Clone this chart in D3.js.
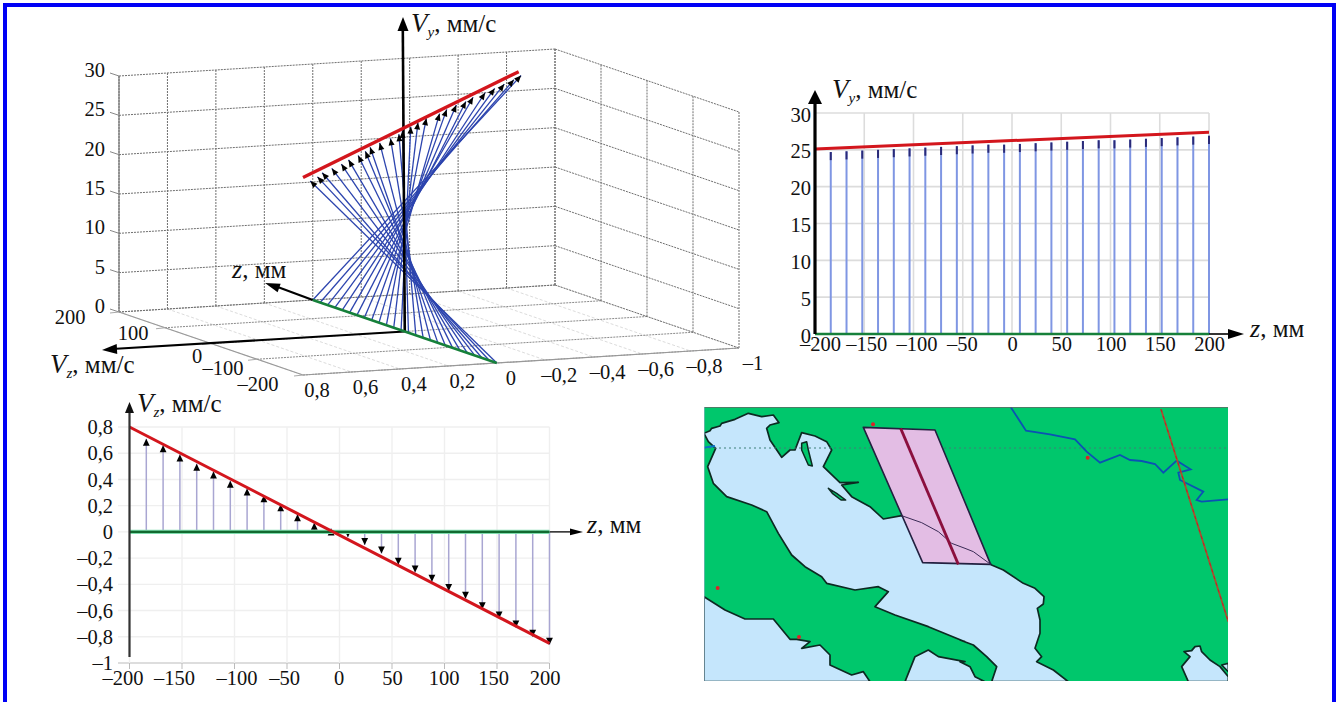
<!DOCTYPE html>
<html><head><meta charset="utf-8">
<script src="https://cdnjs.cloudflare.com/ajax/libs/d3/7.8.5/d3.min.js"></script>
<style>html,body{margin:0;padding:0;background:#fff;overflow:hidden}svg{display:block}text{font-family:"Liberation Serif",serif;fill:#111}</style>
</head><body><svg id="c" width="1339" height="702"></svg>
<script>
// ---------- data ----------
const zValues  = [-200,-184,-168,-152,-136,-120,-104,-88,-72,-56,-40,-24,-8,8,24,40,56,72,88,104,120,136,152,168,184,200];
const vzValues = [0.77,0.71,0.66,0.59,0.52,0.46,0.39,0.33,0.28,0.21,0.135,0.07,0.025,-0.04,-0.10,-0.165,-0.25,-0.31,-0.38,-0.45,-0.51,-0.59,-0.66,-0.73,-0.80,-0.86];
const vyValues = [24.6,24.7,24.8,24.9,25.0,25.1,25.2,25.3,25.4,25.5,25.6,25.7,25.7,25.8,25.9,26.0,26.1,26.2,26.3,26.3,26.4,26.5,26.6,26.7,26.8,26.9];
const redZ  = [-200,200];
const redVz = [0.8,-0.85];
const redVy = [25.1,27.4];
const vyTicks = [0,5,10,15,20,25,30];
const zTicksWide = [-200,-150,-100,-50,0,50,100,150,200];
const vzTicks = [0.8,0.6,0.4,0.2,0,-0.2,-0.4,-0.6,-0.8,-1];
const vzWallTicks = [-1,-0.8,-0.6,-0.4,-0.2,0,0.2,0.4,0.6,0.8];
const zTicks3d = [200,100,0,-100,-200];
const zLabelNudge = [[-49,5],[-32,5],[-14,13],[-34,9],[-45,9]];
const panel2Nudge = [5,2,3,-1,0,0,0,0,0];
const panel3Nudge = [-7,-8,2,-3,-1,0,-1,-4,-5];

// map outlines, in map units (pixels from the map's top-left corner)
const m7 = p => p.map(([x,y]) => [(x-27)/3, (y-21)/3]);
const m8 = p => p.map(([x,y]) => [x/3+256, (y-21)/3]);
const seaAdriatic = [].concat(
  m7([[27,100],[45,92],[50,85],[75,78],[80,70],[120,58],[160,40],[200,50],[235,45],[252,68],[225,75],[215,85],[225,120],[260,172],[285,150],[300,150],[320,98],[360,108],[395,125],[410,150],[385,200],[435,248],[490,247],[440,255],[470,290],[525,320],[565,357],[620,347],[680,368],[730,395],[770,430],[810,445]]),
  m8([[40,455],[95,495],[130,510],[190,550],[225,565],[252,590],[250,612],[232,625],[240,660],[240,700],[225,745],[245,770],[230,785],[280,810],[325,845],[95,845],[110,800],[80,770],[40,735],[0,720]]),
  m7([[810,725],[700,680],[600,645],[540,620],[580,575],[550,560],[480,570],[395,550],[380,530],[330,500],[290,465],[250,400],[215,335],[170,315],[95,290],[55,250],[38,200],[62,145],[40,125],[27,100]]));
const seaTyrrhenian = m7([[27,590],[90,630],[150,657],[235,657],[285,718],[305,718],[345,725],[320,745],[375,735],[405,765],[405,795],[470,825],[505,815],[525,845],[27,845]]);
const seaTaranto = [].concat(m7([[630,845],[660,770],[700,750],[730,770],[810,785]]), m8([[0,785],[30,800],[45,830],[75,845]]));
const seaCorner = m8([[805,830],[780,800],[750,780],[725,755],[720,738],[705,740],[695,752],[672,755],[690,770],[665,800],[685,845],[805,845]]);
const seaCorner2 = m8([[805,790],[785,795],[805,815]]);
const island1 = m7([[320,130],[335,125],[340,150],[352,198],[340,195],[320,150]]);
const island2 = m7([[400,265],[425,280],[452,300],[438,300],[412,280]]);
const pinkZone = [].concat(m7([[505,82],[720,90]]), m8([[92,493]]), m7([[683,488]]));
const coastInZone = [].concat(m7([[620,347],[680,368],[730,395],[770,430],[810,445]]), m8([[40,455],[92,493]]));
const zoneAxis = m7([[617,85],[790,493]]);
const river = m8([[152,21],[198,92],[270,103],[345,118],[380,155],[420,188],[480,165],[510,180],[545,183],[585,192],[610,218],[650,182],[692,208],[655,218],[660,240],[730,275],[710,300],[725,305],[805,298]]);
const riverWest = m7([[27,143],[60,138]]);
const orbitLine = m8([[603,28],[805,665]]);
const parallelLine = [[0,41],[524,41]];
const towns = [].concat(m7([[534,73],[68,564],[312,711]]), m8([[383,173]]));

// ---------- styles ----------
const RED="#d3161d", GREEN="#16803a", BLUE3D="#2c44ae", FS=20.5;
const svg = d3.select("#c");
const line = d3.line();
const fmt = v => String(v).replace("-","–").replace(".",",");

// page frame
svg.append("path").attr("d",line([[5,702],[5,5],[1334,5],[1334,702]]))
   .attr("fill","none").attr("stroke","#0000f5").attr("stroke-width",4);

function arrowHead(g,tip,from,len,w,fill){
  const a=Math.atan2(tip[1]-from[1],tip[0]-from[0]), c=Math.cos(a), s=Math.sin(a);
  const b=[tip[0]-len*c,tip[1]-len*s];
  g.append("path").attr("d",line([tip,[b[0]-w*s,b[1]+w*c],[b[0]+w*s,b[1]-w*c]])+"Z").attr("fill",fill||"#000");
}
function axisTitle(g,x,y,sym,sub){
  const t=g.append("text").attr("x",x).attr("y",y).attr("font-size",25);
  t.append("tspan").attr("font-style","italic").attr("font-size",sub?27:26).text(sym);
  if(sub){ t.append("tspan").attr("font-style","italic").attr("font-size",15).attr("dy",5).text(sub);
           t.append("tspan").attr("dy",-5).text(", мм/с"); }
  else t.append("tspan").text(", мм");
}
function seg(g,a,b,stroke,w,dash){
  return g.append("path").attr("d",line([a,b])).attr("fill","none").attr("stroke",stroke)
    .attr("stroke-width",w).attr("stroke-dasharray",dash||null);
}

// ---------- 3D panel ----------
(function(){
  const g=svg.append("g");
  const vzX=d3.scaleLinear([0.8,-1],[303,739]), vzY=d3.scaleLinear([0.8,-1],[375,348]);
  const zDx=d3.scaleLinear([-200,200],[0,-184]), zDy=d3.scaleLinear([-200,200],[0,-63]);
  const vyDy=d3.scaleLinear([0,30],[0,-236]);
  const P=(vz,vy,z)=>[vzX(vz)+zDx(z), vzY(vz)+zDy(z)+vyDy(vy)];
  const W="#6f6f6f", D="2 1";
  vzWallTicks.forEach(v=>seg(g,P(v,0,200),P(v,0,-200),"#dcdcdc",1,"3 2"));
  zTicks3d.forEach(z=>seg(g,P(0.8,0,z),P(-1,0,z),"#8a8a8a",1,D));
  vyTicks.forEach(v=>seg(g,P(0.8,v,200),P(-1,v,200),W,1,D));
  vzWallTicks.forEach(v=>seg(g,P(v,0,200),P(v,30,200),W,1,D));
  vyTicks.forEach(v=>seg(g,P(-1,v,200),P(-1,v,-200),W,1,D));
  zTicks3d.forEach(z=>seg(g,P(-1,0,z),P(-1,30,z),W,1,D));
  seg(g,P(0.8,0,200),P(0.8,30,200),"#777",1.2);
  seg(g,P(0.8,0,200),P(0.8,0,-200),"#999",1.2);
  seg(g,P(0.8,0,-200),P(-1,0,-200),"#999",1.2);
  vyTicks.forEach(v=>{const p=P(0.8,v,200);
    seg(g,[p[0]-9,p[1]-3],p,"#888",1);
    g.append("text").attr("x",p[0]-14).attr("y",p[1]-6).attr("dy","0.34em").attr("text-anchor","end").attr("font-size",FS).text(v);});
  zTicks3d.forEach((z,i)=>{const p=P(0.8,0,z);
    seg(g,[p[0]-9,p[1]+1],p,"#aaa",1);
    g.append("text").attr("x",p[0]+zLabelNudge[i][0]).attr("y",p[1]+zLabelNudge[i][1]).attr("dy","0.34em").attr("text-anchor","middle").attr("font-size",FS).text(fmt(z));});
  vzTicks.forEach(v=>{const p=P(v,0,-200);
    g.append("text").attr("x",p[0]+14).attr("y",p[1]+15).attr("dy","0.34em").attr("text-anchor","middle").attr("font-size",FS).text(fmt(v));});
  zValues.forEach((z,i)=>seg(g,P(0,0,z),P(vzValues[i],vyValues[i],z),BLUE3D,1.3));
  const o=P(0,0,0);
  seg(g,o,[o[0]-2,24],"#000",2.6); arrowHead(g,[403,17],[403,100],14,5.5);
  seg(g,o,[112,349],"#000",2.2);  arrowHead(g,[102,350],o,15,5);
  const zEnd=P(0,0,200);
  seg(g,zEnd,[275,286],"#000",2.2); arrowHead(g,[265,283],zEnd,15,4.5);
  seg(g,P(0,0,-200),zEnd,GREEN,2.6);
  zValues.forEach((z,i)=>{
    arrowHead(g,P(vzValues[i],vyValues[i],z),P(0,0,z),7,3);
  });
  seg(g,P(redVz[0],redVy[0],redZ[0]),P(redVz[1],redVy[1],redZ[1]),RED,3.4);
  axisTitle(g,411,32,"V","y");
  axisTitle(g,50,373,"V","z");
  axisTitle(g,232,278,"z");
})();

// ---------- Vy(z) panel ----------
(function(){
  const g=svg.append("g");
  const x=d3.scaleLinear([-200,200],[815,1209]), y=d3.scaleLinear([0,30],[334,113]);
  vyTicks.forEach(v=>seg(g,[x(-200),y(v)],[x(200),y(v)],"#dcdcdc",1.6));
  zTicksWide.forEach(v=>seg(g,[x(v),y(0)],[x(v),y(30)],"#dcdcdc",1.6));
  g.append("g").attr("transform","translate(0,333)").call(d3.axisBottom(x).tickValues(zTicksWide).tickFormat(fmt).tickSize(0).tickPadding(0))
   .call(s=>s.select(".domain").remove())
   .call(s=>s.selectAll("text").attr("font-size",FS).attr("dy","0.9em").attr("dx",(d,i)=>panel2Nudge[i]));
  g.append("g").attr("transform","translate(811,1.5)").call(d3.axisLeft(y).tickValues(vyTicks).tickSize(0).tickPadding(0))
   .call(s=>s.select(".domain").remove())
   .call(s=>s.selectAll("text").attr("font-size",FS));
  zValues.forEach((z,i)=>{
    seg(g,[x(z),y(0)],[x(z),y(vyValues[i])],"#7f96e3",2);
    seg(g,[x(z),y(vyValues[i]-1.1)],[x(z),y(vyValues[i])],"#2a2a78",2);
  });
  seg(g,[x(200),y(0)],[1235,y(0)],"#000",1.6); arrowHead(g,[1244,y(0)],[x(200),y(0)],16,5);
  seg(g,[x(-200),y(0)],[x(200),y(0)],GREEN,2.4);
  seg(g,[x(-200),y(redVy[0])],[x(200),y(redVy[1])],RED,3);
  seg(g,[x(-200),y(0)],[x(-200),100],"#000",3.2); arrowHead(g,[x(-200),90],[x(-200),200],14,7);
  axisTitle(g,832,98,"V","y");
  axisTitle(g,1250,337,"z");
})();

// ---------- Vz(z) panel ----------
(function(){
  const g=svg.append("g");
  const x=d3.scaleLinear([-200,200],[129.5,549.5]), y=d3.scaleLinear([0.8,-1],[427,663]);
  vzTicks.forEach(v=>seg(g,[118,y(v)],[x(200),y(v)],v===-1?"#bbb":"#efefef",v===-1?1:1.4));
  zTicksWide.forEach(v=>seg(g,[x(v),y(-1)],[x(v),y(0.8)],"#efefef",1.4));
  zTicksWide.forEach(v=>seg(g,[x(v),y(-1)],[x(v),y(-1)+6],"#bbb",1));
  g.append("g").attr("transform","translate(0,678)").call(d3.axisBottom(x).tickValues(zTicksWide).tickFormat(fmt).tickSize(0).tickPadding(0))
   .call(s=>s.select(".domain").remove())
   .call(s=>s.selectAll("text").attr("font-size",FS).attr("dy","0.34em").attr("dx",(d,i)=>panel3Nudge[i]));
  g.append("g").attr("transform","translate(113,0)").call(d3.axisLeft(y).tickValues(vzTicks).tickFormat(fmt).tickSize(0).tickPadding(0))
   .call(s=>s.select(".domain").remove())
   .call(s=>s.selectAll("text").attr("font-size",FS));
  zValues.forEach((z,i)=>{
    if(z===-200) return; // this vector coincides with the vertical axis and is not visible here
    seg(g,[x(z),y(0)],[x(z),y(vzValues[i])],"#a9a6d2",1.5);
    arrowHead(g,[x(z),y(vzValues[i])],[x(z),y(0)],7,3.4);
  });
  seg(g,[x(200),y(0)],[575,y(0)],"#000",1.3); arrowHead(g,[583,y(0)],[x(200),y(0)],13,3.4);
  seg(g,[x(-200),y(0)],[x(200),y(0)],"#7fdcae",4.4);
  seg(g,[x(-200),y(0)],[x(200),y(0)],"#126a30",2.4);
  seg(g,[x(redZ[0]),y(redVz[0])],[x(redZ[1]),y(redVz[1])],RED,3);
  seg(g,[x(-200),657],[x(-200),410],"#333",2.2); arrowHead(g,[x(-200),402],[x(-200),500],11,4.5,"#111");
  axisTitle(g,137,412,"V","z");
  axisTitle(g,587,533,"z");
})();

// ---------- map panel ----------
(function(){
  const mx=d3.scaleLinear([0,524],[704,1228]), my=d3.scaleLinear([0,274],[407,681]);
  const L=d3.line().x(d=>mx(d[0])).y(d=>my(d[1]));
  const g=svg.append("g");
  const defs=svg.append("defs");
  defs.append("clipPath").attr("id","mapclip").append("rect").attr("x",mx(0)).attr("y",my(0)).attr("width",524).attr("height",274);
  g.attr("clip-path","url(#mapclip)");
  g.append("rect").attr("x",mx(0)).attr("y",my(0)).attr("width",524).attr("height",274).attr("fill","#00c76c");
  const poly=(pts,fill,stroke,w)=>g.append("path").attr("d",L(pts)+"Z").attr("fill",fill).attr("stroke",stroke||"none").attr("stroke-width",w||0).attr("stroke-linejoin","round");
  const path=(pts,stroke,w,dash)=>g.append("path").attr("d",L(pts)).attr("fill","none").attr("stroke",stroke).attr("stroke-width",w).attr("stroke-dasharray",dash||null);
  [seaAdriatic,seaTyrrhenian,seaTaranto,seaCorner,seaCorner2].forEach(s=>poly(s,"#c5e6fc","#0d2a22",1.7));
  poly(island1,"#00c76c","#0d2a22",1.5);
  poly(island2,"#00c76c","#0d2a22",1.5);
  path(parallelLine,"#3f7f78",1,"2 3");
  poly(pinkZone,"#e3bde4","#232040",1.6);
  path(coastInZone,"#3a2a55",1);
  path(zoneAxis,"#8b0f3e",2.8);
  path(river,"#0b52b4",1.8);
  path(riverWest,"#0b72c8",1.8);
  path(orbitLine,"#a8502e",1.8);
  path(orbitLine,"#c0202a",1,"3 4");
  g.selectAll("circle").data(towns).join("circle").attr("cx",d=>mx(d[0])).attr("cy",d=>my(d[1])).attr("r",2).attr("fill","#e0202a");
  path([[0,0],[524,0]],"#666",1.6);
  path([[0,0],[0,274]],"#8fb0c8",1.2);
})();
</script></body></html>
